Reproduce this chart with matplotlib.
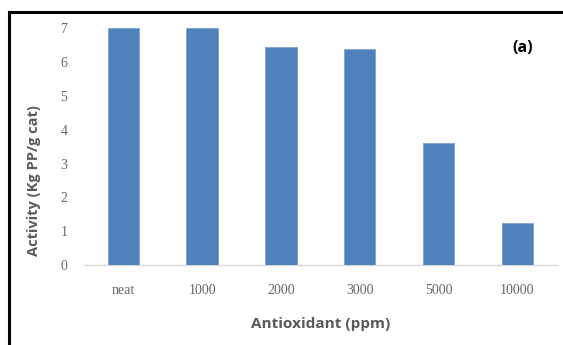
import numpy as np
from matplotlib import pyplot as plt
from matplotlib.patches import Rectangle

categories = ["neat", "1000", "2000", "3000", "5000", "10000"]
activity = [7.0, 7.0, 6.45, 6.39, 3.60, 1.23]
yticks = [0, 1, 2, 3, 4, 5, 6, 7]

fig = plt.figure(figsize=(5.63, 3.45), dpi=100)
ax = fig.add_axes([0.1492, 0.2319, 0.9888 - 0.1492, 0.918 - 0.2319])

x = np.arange(len(categories))
ax.bar(x, activity, width=0.4, color="#4F81BD", edgecolor="#7EA3D1", linewidth=0.6, zorder=3)

ax.set_xlim(-0.5, len(categories) - 0.5)
ax.set_ylim(0, 7)
ax.set_yticks(yticks)
ax.set_xticks(x)
ax.set_xticklabels(categories)

for s in ["top", "right", "left"]:
    ax.spines[s].set_visible(False)
ax.spines["bottom"].set_color("#D9D9D9")
ax.spines["bottom"].set_linewidth(1.0)
ax.tick_params(length=0)
ax.tick_params(axis="x", pad=14)
ax.tick_params(axis="y", pad=12)
for lab in ax.get_xticklabels() + ax.get_yticklabels():
    lab.set_family("Liberation Serif")
    lab.set_fontsize(10)
    lab.set_color("#666666")

# axis titles placed where the reference has them
fig.text(0.0604, 0.4754, "Activity (Kg PP/g cat)", rotation=90, family="Open Sans",
         fontsize=10.5, fontweight="bold", color="#595959", ha="center", va="center")
fig.text(0.570, 0.061, "Antioxidant (ppm)", family="Open Sans", fontsize=11,
         fontweight="bold", color="#595959", ha="center", va="center")

fig.text(0.929, 0.861, "(a)", fontsize=11.5, fontweight="bold",
         family="Open Sans", color="black", ha="center", va="center")

# chart frame, cut off at the right and bottom edges
fig.patches.append(Rectangle((9 / 563, -0.1), 1.2, 1.1 - 12 / 345, transform=fig.transFigure,
                             fill=False, edgecolor="black", linewidth=2.2))

fig.savefig("out.png", dpi=100)
